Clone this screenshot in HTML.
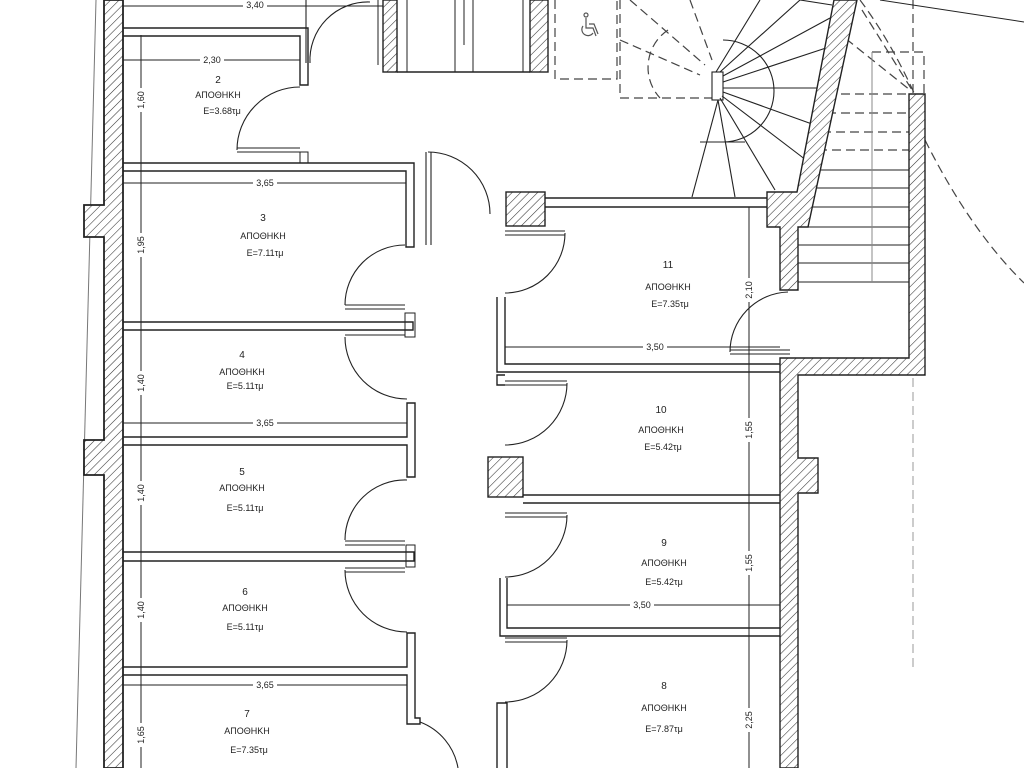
<!DOCTYPE html>
<html><head><meta charset="utf-8"><style>
html,body{margin:0;padding:0;background:#fff;}
svg{display:block}
text{font-family:"Liberation Sans",sans-serif;fill:#222;}
.l{font-size:9px;text-anchor:middle}
.n{font-size:10px;text-anchor:middle}
.d{font-size:9px;text-anchor:middle}
</style></head><body>
<svg width="1024" height="768" viewBox="0 0 1024 768" xmlns="http://www.w3.org/2000/svg">
<defs>
<pattern id="h" patternUnits="userSpaceOnUse" width="6" height="6" patternTransform="rotate(45)">
<rect width="6" height="6" fill="#fff"/><line x1="0" y1="0" x2="0" y2="6" stroke="#333" stroke-width="1.1"/>
</pattern>
</defs>
<g fill="none" stroke="#222" stroke-width="1.4">
<line x1="96" y1="0" x2="76" y2="768" stroke="#777" stroke-width="1"/>
<path d="M104,0 H123 V768 H104 V475 H84 V440 H104 V237 H84 V205 H104 Z" fill="url(#h)" stroke-width="1.8"/>
<line x1="123" y1="6" x2="385" y2="6" stroke-width="1"/>
<path d="M123,28 H308 V85 H300 V36 H123"/>
<path d="M123,163 H414 V247 H406 V171 H123"/>
<rect x="300" y="152" width="8" height="11" stroke-width="1"/>
<path d="M123,322 H413 V330 H123"/>
<rect x="405" y="313" width="10" height="24" stroke-width="1"/>
<path d="M123,437 H407 V403 H415 V477 H407 V445 H123"/>
<path d="M123,552 H414 V561 H123"/>
<rect x="406" y="545" width="9" height="22" stroke-width="1"/>
<path d="M123,667 H407 V633 H415 V718 H420 V724 H407 V675 H123"/>
<line x1="141" y1="35" x2="141" y2="768" stroke-width="1"/>
<line x1="123" y1="60" x2="300" y2="60" stroke-width="1"/>
<line x1="123" y1="183" x2="406" y2="183" stroke-width="1"/>
<line x1="123" y1="423" x2="407" y2="423" stroke-width="1"/>
<line x1="123" y1="685" x2="407" y2="685" stroke-width="1"/>
<g stroke-width="1.1">
<path d="M310,63 A58,58 0 0 1 370,2"/><line x1="306" y1="63" x2="306" y2="0"/>
<path d="M237,150 A63,63 0 0 1 300,87"/><line x1="237" y1="148" x2="300" y2="148"/><line x1="237" y1="152" x2="300" y2="152"/>
<path d="M428,152 A62,62 0 0 1 490,214"/><line x1="426" y1="152" x2="426" y2="245"/><line x1="431" y1="152" x2="431" y2="245"/>
<path d="M345,305 A60,60 0 0 1 405,245"/><line x1="345" y1="305" x2="405" y2="305"/><line x1="345" y1="309" x2="405" y2="309"/>
<path d="M345,337 A62,62 0 0 0 407,399"/><line x1="345" y1="335" x2="405" y2="335"/>
<path d="M407,480 A60,60 0 0 0 345,540"/><line x1="345" y1="541" x2="405" y2="541"/><line x1="345" y1="545" x2="405" y2="545"/>
<path d="M345,570 A62,62 0 0 0 407,632"/><line x1="345" y1="568" x2="405" y2="568"/><line x1="345" y1="572" x2="405" y2="572"/>
<path d="M420,722 A60,60 0 0 1 458,768"/>
</g>
<rect x="383" y="0" width="14" height="72" fill="url(#h)"/>
<rect x="530" y="0" width="18" height="72" fill="url(#h)"/>
<line x1="397" y1="72" x2="530" y2="72"/>
<g stroke-width="1"><line x1="407" y1="0" x2="407" y2="72"/><line x1="455" y1="0" x2="455" y2="72"/><line x1="473" y1="0" x2="473" y2="72"/><line x1="523" y1="0" x2="523" y2="72"/><line x1="464" y1="0" x2="464" y2="45"/><line x1="378" y1="0" x2="378" y2="65"/></g>
<g stroke-dasharray="9,5" stroke-width="1.2" stroke="#444">
<path d="M555,0 V79 H617 V0"/>
<path d="M620,0 V98 H712"/>
<path d="M620,40 L700,75"/><path d="M630,0 L705,65"/><path d="M690,0 L712,60"/>
<path d="M668,30 A45,45 0 0 0 660,98"/>
<path d="M872,52 H924 V95"/><path d="M913,0 V95"/>
<path d="M835,30 L910,90"/><path d="M862,10 L912,90"/>
<path d="M827,94 H909"/><path d="M827,113 H909"/><path d="M822,132 H909"/><path d="M818,150 H909"/>
<path d="M925,140 Q970,230 1024,283"/>
<path d="M860,0 Q890,40 915,95"/>
<path d="M913,378 V670" stroke="#aaa"/>
</g>
<!-- wheelchair icon -->
<g stroke="#555" stroke-width="1.2">
<circle cx="586" cy="15" r="2"/>
<path d="M586,18 V28 H593 L596,36"/>
<path d="M583,26 A6,6 0 1 0 593,33"/>
<path d="M589,24 H594 L598,34"/>
</g>
<g stroke-width="1.1">
<rect x="712" y="72" width="11" height="28"/>
<path d="M723,40 A39,39 0 0 1 723,142 M700,142 H745"/>
<line x1="718" y1="100" x2="692" y2="197"/><line x1="718" y1="100" x2="735" y2="197"/>
<line x1="720" y1="98" x2="775" y2="190"/><line x1="722" y1="96" x2="806" y2="160"/>
<line x1="723" y1="92" x2="812" y2="124"/><line x1="723" y1="88" x2="818" y2="88"/>
<line x1="723" y1="82" x2="826" y2="48"/><line x1="723" y1="76" x2="830" y2="18"/>
<line x1="720" y1="72" x2="800" y2="0"/><line x1="716" y1="72" x2="760" y2="0"/>
<line x1="832" y1="5" x2="800" y2="0"/>
</g>
<g stroke-width="1">
<line x1="813" y1="170" x2="909" y2="170"/><line x1="810" y1="188" x2="909" y2="188"/>
<line x1="806" y1="207" x2="909" y2="207"/><line x1="800" y1="227" x2="909" y2="227"/>
<line x1="798" y1="245" x2="909" y2="245"/><line x1="798" y1="263" x2="909" y2="263"/>
<line x1="798" y1="282" x2="909" y2="282"/>
<line x1="872" y1="52" x2="872" y2="282" stroke="#888"/>
</g>
<line x1="880" y1="0" x2="1024" y2="22" stroke-width="1"/>
<path d="M834,0 H857 L808,227 H798 V290 H780 V227 H767 V192 H797 Z" fill="url(#h)"/>
<path d="M909,94 H925 V375 H798 V458 H818 V493 H798 V768 H780 V358 H909 Z" fill="url(#h)"/>
<rect x="506" y="192" width="39" height="34" fill="url(#h)"/>
<rect x="488" y="457" width="35" height="40" fill="url(#h)"/>
<path d="M545,198 H767 M545,207 H767"/>
<path d="M497,297 V372 H780 M505,297 V364 H780"/>
<path d="M505,375 H497 V385 H505"/>
<path d="M523,495 H780 M523,503 H780"/>
<path d="M500,578 V636 H780 M507,578 V628 H780"/>
<path d="M497,768 V703 H507 V768"/>
<line x1="505" y1="347" x2="780" y2="347" stroke-width="1"/>
<line x1="507" y1="605" x2="780" y2="605" stroke-width="1"/>
<line x1="749" y1="207" x2="749" y2="768" stroke-width="1"/>
<g stroke-width="1.1">
<path d="M565,233 A60,60 0 0 1 505,293"/><line x1="505" y1="231" x2="565" y2="231"/><line x1="505" y1="235" x2="565" y2="235"/>
<path d="M567,383 A62,62 0 0 1 505,445"/><line x1="505" y1="381" x2="567" y2="381"/><line x1="505" y1="385" x2="567" y2="385"/>
<path d="M567,515 A62,62 0 0 1 505,577"/><line x1="505" y1="513" x2="567" y2="513"/><line x1="505" y1="517" x2="567" y2="517"/>
<path d="M567,640 A62,62 0 0 1 505,702"/><line x1="505" y1="638" x2="567" y2="638"/><line x1="505" y1="642" x2="567" y2="642"/>
<path d="M730,352 A60,60 0 0 1 788,292"/><line x1="730" y1="350" x2="790" y2="350"/><line x1="730" y1="354" x2="790" y2="354"/>
</g>
</g>
<g>
<rect x="243" y="0" width="24" height="10" fill="#fff"/><text class="d" x="255" y="8">3,40</text>
<rect x="200" y="55" width="24" height="10" fill="#fff"/><text class="d" x="212" y="63">2,30</text>
<rect x="253" y="178" width="24" height="10" fill="#fff"/><text class="d" x="265" y="186">3,65</text>
<rect x="253" y="418" width="24" height="10" fill="#fff"/><text class="d" x="265" y="426">3,65</text>
<rect x="253" y="680" width="24" height="10" fill="#fff"/><text class="d" x="265" y="688">3,65</text>
<rect x="643" y="342" width="24" height="10" fill="#fff"/><text class="d" x="655" y="350">3,50</text>
<rect x="630" y="600" width="24" height="10" fill="#fff"/><text class="d" x="642" y="608">3,50</text>
</g>
<g>
<g transform="translate(144,100) rotate(-90)"><rect x="-12" y="-8" width="24" height="10" fill="#fff"/><text class="d" x="0" y="0">1,60</text></g>
<g transform="translate(144,245) rotate(-90)"><rect x="-12" y="-8" width="24" height="10" fill="#fff"/><text class="d" x="0" y="0">1,95</text></g>
<g transform="translate(144,383) rotate(-90)"><rect x="-12" y="-8" width="24" height="10" fill="#fff"/><text class="d" x="0" y="0">1,40</text></g>
<g transform="translate(144,493) rotate(-90)"><rect x="-12" y="-8" width="24" height="10" fill="#fff"/><text class="d" x="0" y="0">1,40</text></g>
<g transform="translate(144,610) rotate(-90)"><rect x="-12" y="-8" width="24" height="10" fill="#fff"/><text class="d" x="0" y="0">1,40</text></g>
<g transform="translate(144,735) rotate(-90)"><rect x="-12" y="-8" width="24" height="10" fill="#fff"/><text class="d" x="0" y="0">1,65</text></g>
<g transform="translate(752,290) rotate(-90)"><rect x="-12" y="-8" width="24" height="10" fill="#fff"/><text class="d" x="0" y="0">2,10</text></g>
<g transform="translate(752,430) rotate(-90)"><rect x="-12" y="-8" width="24" height="10" fill="#fff"/><text class="d" x="0" y="0">1,55</text></g>
<g transform="translate(752,563) rotate(-90)"><rect x="-12" y="-8" width="24" height="10" fill="#fff"/><text class="d" x="0" y="0">1,55</text></g>
<g transform="translate(752,720) rotate(-90)"><rect x="-12" y="-8" width="24" height="10" fill="#fff"/><text class="d" x="0" y="0">2,25</text></g>
</g>
<text class="n" x="218" y="83">2</text><text class="l" x="218" y="98">ΑΠΟΘΗΚΗ</text><text class="l" x="222" y="114">E=3.68τμ</text>
<text class="n" x="263" y="221">3</text><text class="l" x="263" y="239">ΑΠΟΘΗΚΗ</text><text class="l" x="265" y="256">E=7.11τμ</text>
<text class="n" x="242" y="358">4</text><text class="l" x="242" y="375">ΑΠΟΘΗΚΗ</text><text class="l" x="245" y="389">E=5.11τμ</text>
<text class="n" x="242" y="475">5</text><text class="l" x="242" y="491">ΑΠΟΘΗΚΗ</text><text class="l" x="245" y="511">E=5.11τμ</text>
<text class="n" x="245" y="595">6</text><text class="l" x="245" y="611">ΑΠΟΘΗΚΗ</text><text class="l" x="245" y="630">E=5.11τμ</text>
<text class="n" x="247" y="717">7</text><text class="l" x="247" y="734">ΑΠΟΘΗΚΗ</text><text class="l" x="249" y="753">E=7.35τμ</text>
<text class="n" x="668" y="268">11</text><text class="l" x="668" y="290">ΑΠΟΘΗΚΗ</text><text class="l" x="670" y="307">E=7.35τμ</text>
<text class="n" x="661" y="413">10</text><text class="l" x="661" y="433">ΑΠΟΘΗΚΗ</text><text class="l" x="663" y="450">E=5.42τμ</text>
<text class="n" x="664" y="546">9</text><text class="l" x="664" y="566">ΑΠΟΘΗΚΗ</text><text class="l" x="664" y="585">E=5.42τμ</text>
<text class="n" x="664" y="689">8</text><text class="l" x="664" y="711">ΑΠΟΘΗΚΗ</text><text class="l" x="664" y="732">E=7.87τμ</text>
</svg>
</body></html>
